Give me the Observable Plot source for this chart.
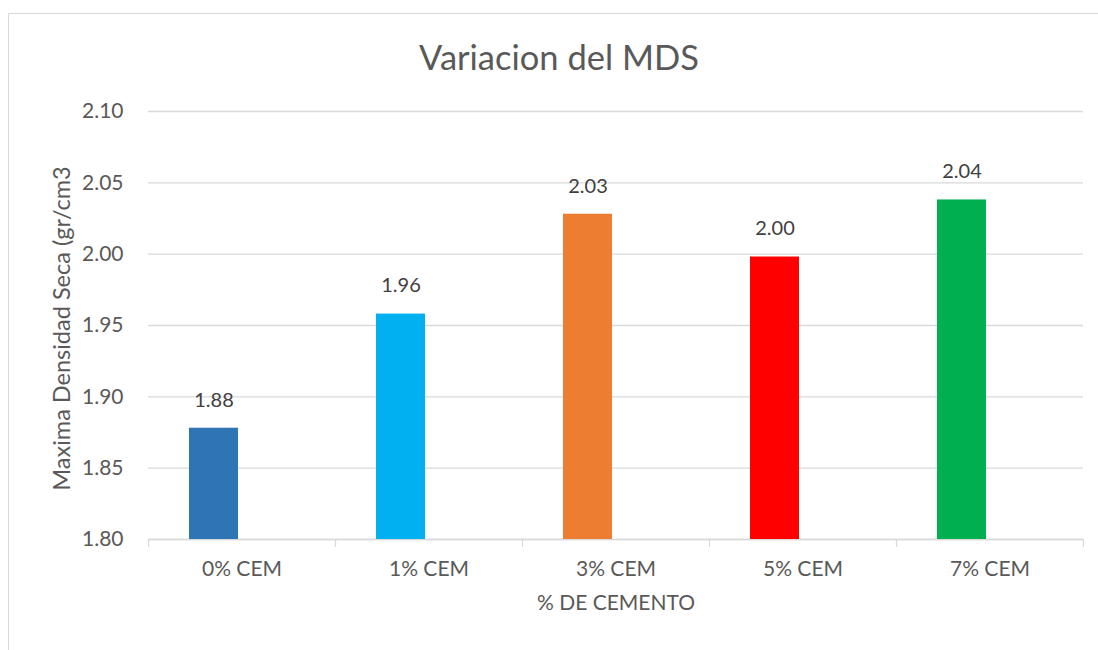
<!DOCTYPE html>
<html>
<head>
<meta charset="utf-8">
<script src="https://cdn.jsdelivr.net/npm/d3@7"></script>
<script src="https://cdn.jsdelivr.net/npm/@observablehq/plot@0.6"></script>
<style>
  html, body { margin: 0; padding: 0; background: #fff; }
  #wrap { position: relative; width: 1098px; height: 650px; overflow: hidden; font-family: Lato, "Open Sans", sans-serif; }
  #frame { position: absolute; left: 8px; top: 13px; width: 1200px; height: 800px; border: 1.5px solid #d9d9d9; box-sizing: border-box; }
  #title { position: absolute; left: 0; width: 1118px; top: 36px; text-align: center; font-size: 34.5px; line-height: 42px; color: #595959; }
  #chart { position: absolute; left: 0; top: 0; }
</style>
</head>
<body>
<div id="wrap">
  <div id="frame"></div>
  <div id="chart"></div>
  <div id="title">Variacion del MDS</div>
</div>
<script>
const categories = ["0% CEM", "1% CEM", "3% CEM", "5% CEM", "7% CEM"];
const values = [1.878, 1.958, 2.028, 1.998, 2.038];
const colors = ["#2E75B6", "#00B0F0", "#ED7D31", "#FF0000", "#00B050"];
const yTicks = [1.80, 1.85, 1.90, 1.95, 2.00, 2.05, 2.10];
const yLabel = "Maxima Densidad Seca (gr/cm3";
const xLabel = "% DE CEMENTO";

const data = categories.map((c, i) => ({cat: c, value: values[i]}));
const W = 1098, H = 650, mL = 148, mR = 15, mT = 111, mB = 111;
const bw = (W - mL - mR) / categories.length;

const chart = Plot.plot({
  width: W, height: H,
  marginLeft: mL, marginRight: mR, marginTop: mT, marginBottom: mB,
  style: {fontFamily: "Lato, 'Open Sans', sans-serif", background: "transparent"},
  x: {domain: categories, padding: 0},
  y: {domain: [yTicks[0], yTicks[yTicks.length - 1]]},
  color: {domain: categories, range: colors},
  marks: [
    Plot.gridY(yTicks, {stroke: "#d9d9d9", strokeOpacity: 1, strokeWidth: 1.3}),
    Plot.axisY(yTicks, {tickFormat: d3.format(".2f"), tickSize: 0, tickPadding: 25, fontSize: 21, fill: "#595959", label: null}),
    Plot.text([yLabel], {frameAnchor: "left", textAnchor: "middle", rotate: -90, dx: -86, dy: 3, fontSize: 23.5, fill: "#595959"}),
    Plot.axisX({tickSize: 0, tickPadding: 22, fontSize: 21, fill: "#595959",
      label: xLabel, labelAnchor: "center", labelOffset: 70, labelArrow: "none"}),
    Plot.axisX({text: null, tickSize: 8, stroke: "#d9d9d9", strokeWidth: 1.3, dx: -bw / 2, label: null}),
    Plot.axisX({ticks: [categories[categories.length - 1]], text: null, tickSize: 8, stroke: "#d9d9d9", strokeWidth: 1.3, dx: bw / 2, label: null}),
    Plot.ruleY([yTicks[0]], {stroke: "#d9d9d9", strokeWidth: 1.3}),
    Plot.barY(data, {x: "cat", y1: () => yTicks[0], y2: "value", fill: "cat", insetLeft: 41, insetRight: 97}),
    Plot.text(data, {x: "cat", y: "value", text: d => d3.format(".2f")(d.value), dx: -28, dy: -28, fontSize: 20, fill: "#404040"})
  ]
});
document.getElementById("chart").appendChild(chart);
</script>
</body>
</html>
